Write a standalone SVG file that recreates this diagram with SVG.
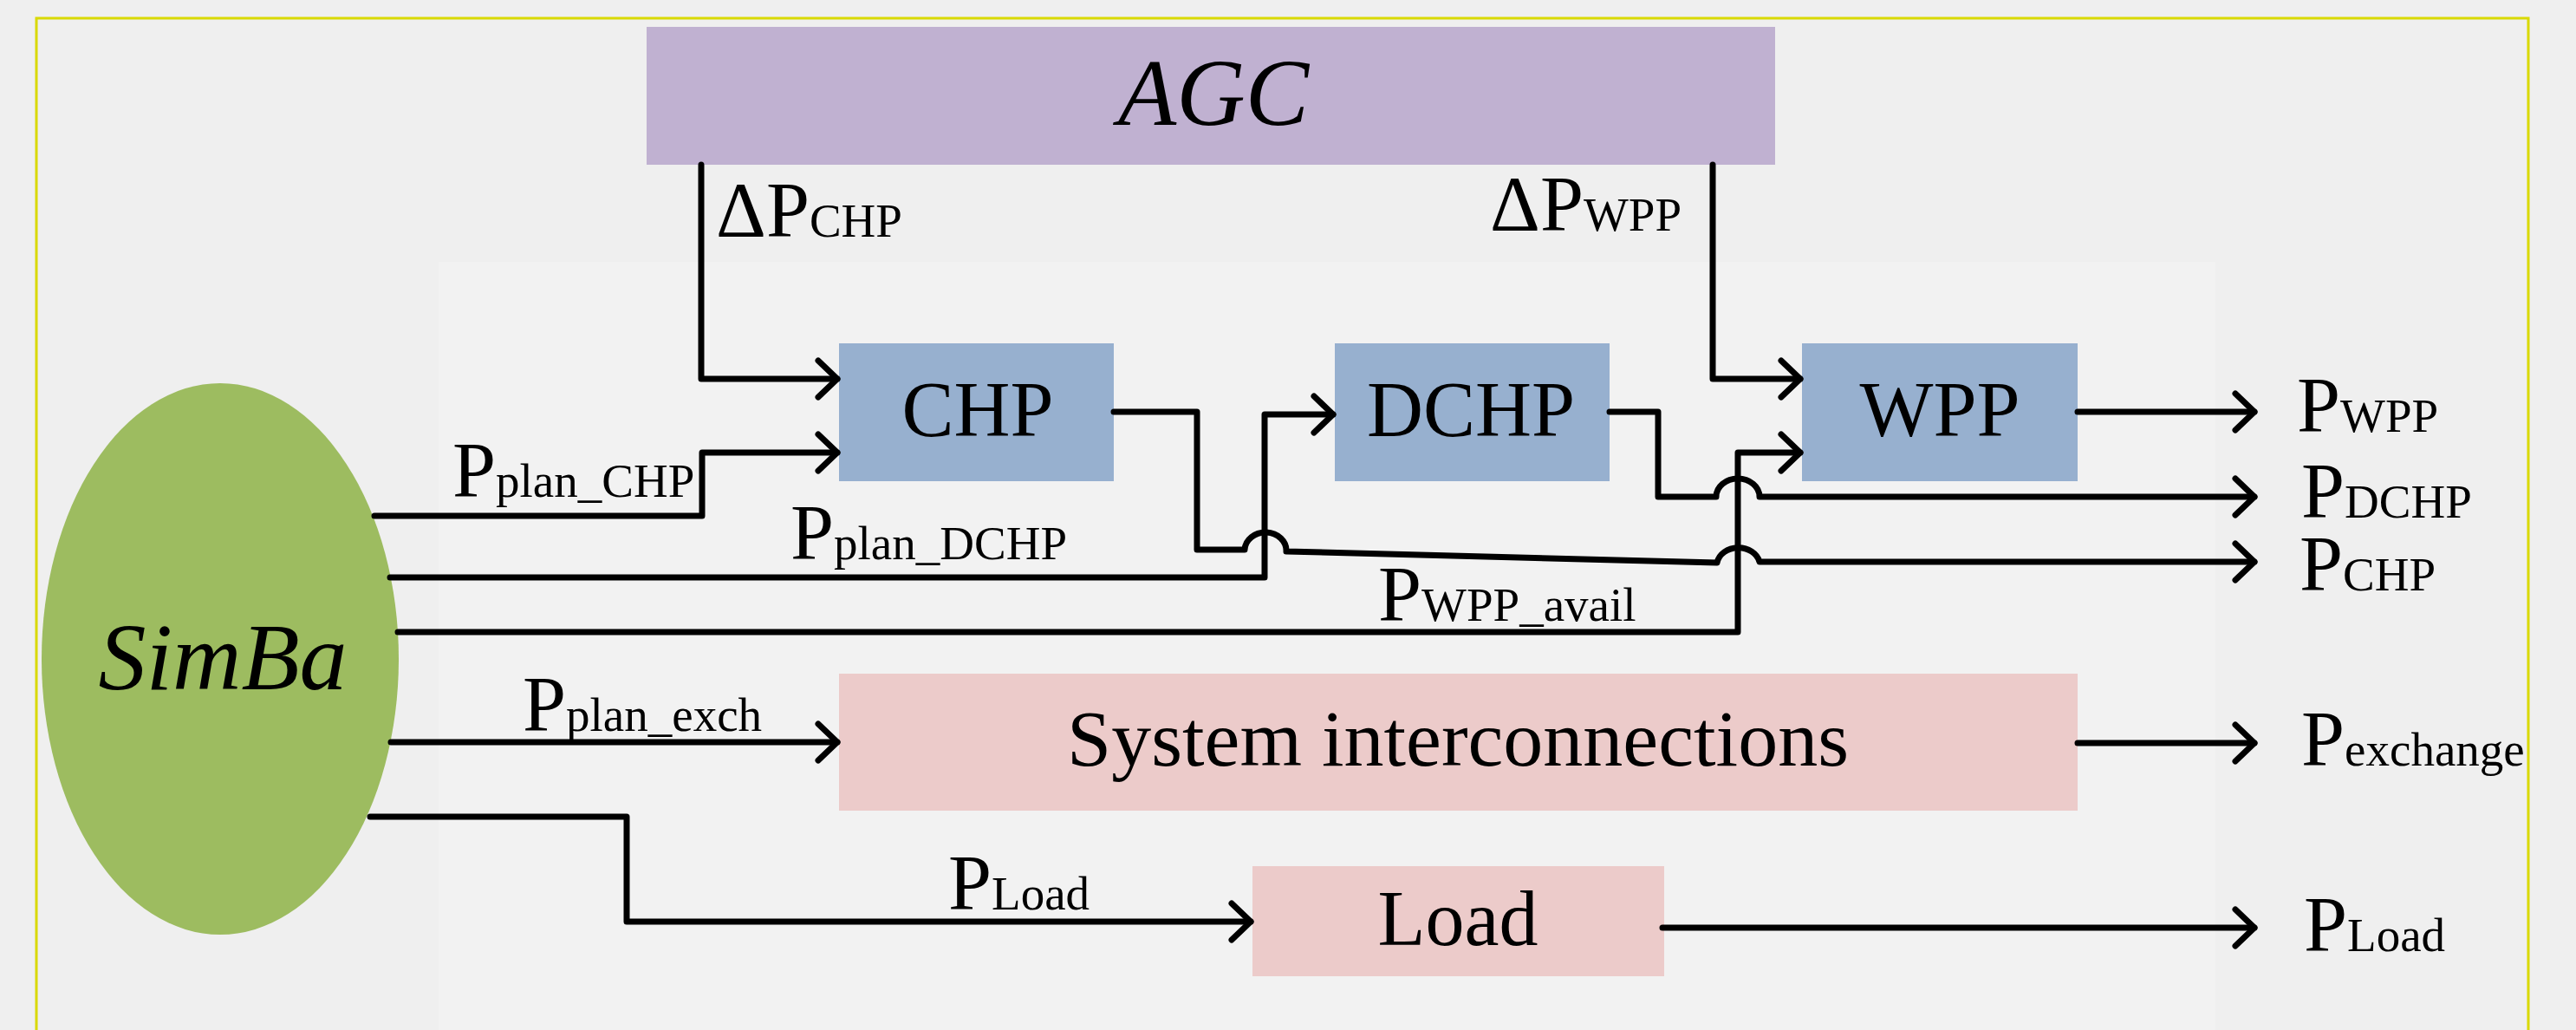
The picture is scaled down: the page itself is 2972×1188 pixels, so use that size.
<svg xmlns="http://www.w3.org/2000/svg" width="2972" height="1188" viewBox="0 0 2972 1188">
<style>
text{font-family:"Liberation Serif","Times New Roman",serif;fill:#000}
.node{font-size:90px}
.it{font-style:italic;font-size:110px}
.lbl{font-size:90px}
.sub{font-size:55px}
.conn{fill:none;stroke:#000;stroke-width:7;stroke-linecap:round;stroke-linejoin:round}
.blue{fill:#97B0CF}
.pink{fill:#ECCBCA}
</style>
<defs>
<marker id="arr" markerUnits="userSpaceOnUse" markerWidth="60" markerHeight="60" viewBox="-30 -30 60 60" refX="0" refY="0" orient="auto" overflow="visible">
<path d="M-22,-21 L0,0 L-22,21" fill="none" stroke="#000" stroke-width="7" stroke-linecap="round" stroke-linejoin="round"/>
</marker>
</defs>
<rect x="0" y="0" width="2972" height="1188" fill="#EFEFEF"/>
<rect x="506" y="302" width="2050" height="886" fill="#F2F2F2"/>
<path d="M42,1188 V21 H2917 V1188" fill="none" stroke="#D9D900" stroke-width="3"/>

<g id="agc"><rect x="746" y="31" width="1302" height="159" fill="#C0B1D1"/><text class="it" x="1400" y="144" text-anchor="middle">AGC</text></g>
<g id="simba"><ellipse cx="254" cy="760" rx="206" ry="318" fill="#9DBC60"/><text class="it" x="257" y="795" text-anchor="middle">SimBa</text></g>
<g id="chp"><rect class="blue" x="968" y="396" width="317" height="159"/><text class="node" x="1128" y="503" text-anchor="middle">CHP</text></g>
<g id="dchp"><rect class="blue" x="1540" y="396" width="317" height="159"/><text class="node" x="1697" y="503" text-anchor="middle">DCHP</text></g>
<g id="wpp"><rect class="blue" x="2079" y="396" width="318" height="159"/><text class="node" x="2238" y="503" text-anchor="middle">WPP</text></g>
<g id="sysint"><rect class="pink" x="968" y="777" width="1429" height="158"/><text class="node" x="1682" y="883" text-anchor="middle" style="font-size:92px">System interconnections</text></g>
<g id="load"><rect class="pink" x="1445" y="999" width="475" height="127"/><text class="node" x="1682" y="1090" text-anchor="middle">Load</text></g>

<g id="connectors">
<path class="conn" d="M809,190 V437 H966" marker-end="url(#arr)"/>
<path class="conn" d="M1976,190 V437 H2077" marker-end="url(#arr)"/>
<path class="conn" d="M432,595 H810 V522 H966" marker-end="url(#arr)"/>
<path class="conn" d="M450,666 H1459 V478 H1538" marker-end="url(#arr)"/>
<path class="conn" d="M459,729 H2005 V522 H2077" marker-end="url(#arr)"/>
<path class="conn" d="M1285,475 H1381 V634 H1436 A24,21 0 0 1 1484,636 L1981,649 A25,21 0 0 1 2030,648 H2601" marker-end="url(#arr)"/>
<path class="conn" d="M1857,475 H1913 V573 H1980 A25,21 0 0 1 2030,573 H2601" marker-end="url(#arr)"/>
<path class="conn" d="M2397,475 H2601" marker-end="url(#arr)"/>
<path class="conn" d="M451,856 H966" marker-end="url(#arr)"/>
<path class="conn" d="M2397,857 H2601" marker-end="url(#arr)"/>
<path class="conn" d="M427,942 H723 V1063 H1443" marker-end="url(#arr)"/>
<path class="conn" d="M1918,1070 H2601" marker-end="url(#arr)"/>
</g>

<g id="labels">
<text class="lbl" x="826" y="273">ΔP<tspan class="sub">CHP</tspan></text>
<text class="lbl" x="1719" y="266">ΔP<tspan class="sub">WPP</tspan></text>
<text class="lbl" x="522" y="573">P<tspan class="sub">plan_CHP</tspan></text>
<text class="lbl" x="912" y="645">P<tspan class="sub">plan_DCHP</tspan></text>
<text class="lbl" x="1590" y="716">P<tspan class="sub">WPP_avail</tspan></text>
<text class="lbl" x="603" y="843">P<tspan class="sub">plan_exch</tspan></text>
<text class="lbl" x="1094" y="1049">P<tspan class="sub">Load</tspan></text>
<text class="lbl" x="2650" y="498">P<tspan class="sub">WPP</tspan></text>
<text class="lbl" x="2655" y="597">P<tspan class="sub">DCHP</tspan></text>
<text class="lbl" x="2653" y="681">P<tspan class="sub">CHP</tspan></text>
<text class="lbl" x="2655" y="883">P<tspan class="sub">exchange</tspan></text>
<text class="lbl" x="2658" y="1097">P<tspan class="sub">Load</tspan></text>
</g>
</svg>
